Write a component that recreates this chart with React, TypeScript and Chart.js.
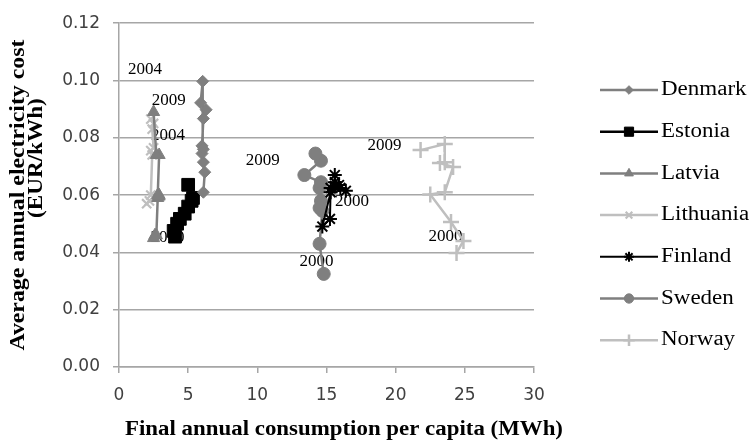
import React, { useEffect, useRef } from 'react';
import { Chart, registerables } from 'chart.js';
import { drawPoint } from 'chart.js/helpers';

Chart.register(...registerables);

// ---- data (x: MWh per capita, y: EUR/kWh), years 2000..2009 ----
const seriesNames = ['Denmark', 'Estonia', 'Latvia', 'Lithuania', 'Finland', 'Sweden', 'Norway'];

const denmarkX = [6.1, 6.2, 6.1, 6.0, 6.05, 5.9, 6.3, 6.1, 6.0, 6.1];
const denmarkY = [0.061, 0.068, 0.0715, 0.0745, 0.0997, 0.0922, 0.0898, 0.0867, 0.0772, 0.076];

const estoniaX = [4.05, 3.95, 4.2, 4.4, 4.75, 5.0, 5.25, 5.35, 5.0];
const estoniaY = [0.0455, 0.0475, 0.05, 0.0517, 0.0535, 0.056, 0.058, 0.059, 0.0636];

const latviaX = [2.5, 2.6, 2.7, 2.8, 2.9, 2.9, 2.8, 2.9, 2.7, 2.5];
const latviaY = [0.045, 0.046, 0.046, 0.059, 0.06, 0.0595, 0.06, 0.074, 0.074, 0.089];

const lithuaniaX = [2.0, 2.2, 2.5, 2.3, 2.4, 2.3, 2.5, 2.4, 2.5, 2.3];
const lithuaniaY = [0.057, 0.058, 0.059, 0.06, 0.074, 0.0755, 0.0765, 0.083, 0.085, 0.0865];

const finlandX = [16.4, 16.0, 15.3, 14.7, 15.25, 15.3, 15.6, 15.9, 15.6, 15.6];
const finlandY = [0.0615, 0.0625, 0.061, 0.049, 0.0517, 0.0625, 0.063, 0.0635, 0.0645, 0.067];

const swedenX = [14.8, 14.5, 14.7, 14.6, 14.5, 14.5, 14.6, 13.4, 14.6, 14.2];
const swedenY = [0.0325, 0.043, 0.0545, 0.058, 0.0625, 0.0555, 0.0645, 0.067, 0.072, 0.0745];

const norwayX = [24.4, 24.9, 24.0, 22.5, 23.55, 24.15, 23.2, 23.55, 23.55, 21.8];
const norwayY = [0.0398, 0.044, 0.0506, 0.0602, 0.061, 0.0698, 0.0712, 0.0715, 0.0778, 0.0757];

const xTicks = [0, 5, 10, 15, 20, 25, 30];
const yTicks = [0, 0.02, 0.04, 0.06, 0.08, 0.1, 0.12];

// year annotations (data coordinates)
const yearLabelText = ['2004', '2009', '2004', '2000', '2009', '2000', '2000', '2009', '2000'];
const yearLabelX = [1.88, 3.6, 3.55, 3.5, 10.4, 16.84, 14.27, 19.2, 23.6];
const yearLabelY = [0.1037, 0.093, 0.0808, 0.0452, 0.0721, 0.0577, 0.0367, 0.0772, 0.0457];

const xTitle = 'Final annual consumption per capita (MWh)';
const yTitle1 = 'Average annual electricity cost';
const yTitle2 = '(EUR/kWh)';

const GRAY = '#7f7f7f';
const LIGHT = '#bfbfbf';
const BLACK = '#000000';
const GRID = '#a6a6a6';

function pts(xs: number[], ys: number[]) {
  return xs.map((x, i) => ({ x, y: ys[i] }));
}

const seriesData = [
  pts(denmarkX, denmarkY),
  pts(estoniaX, estoniaY),
  pts(latviaX, latviaY),
  pts(lithuaniaX, lithuaniaY),
  pts(finlandX, finlandY),
  pts(swedenX, swedenY),
  pts(norwayX, norwayY),
];

const styles = [
  { color: GRAY, pointStyle: 'rectRot', radius: 6, bw: 1, lw: 2.5 },
  { color: BLACK, pointStyle: 'rect', radius: 9, bw: 1, lw: 2.5 },
  { color: GRAY, pointStyle: 'triangle', radius: 7, bw: 1, lw: 2.5 },
  { color: LIGHT, pointStyle: 'crossRot', radius: 6.5, bw: 2.2, lw: 2.5 },
  { color: BLACK, pointStyle: 'star', radius: 7, bw: 2, lw: 2 },
  { color: GRAY, pointStyle: 'circle', radius: 6.5, bw: 1, lw: 2.5 },
  { color: LIGHT, pointStyle: 'cross', radius: 8, bw: 2.5, lw: 2.5 },
];

function stretchedText(ctx: CanvasRenderingContext2D, text: string, x: number, y: number, sx: number, rot = 0) {
  ctx.save();
  ctx.translate(x, y);
  if (rot) ctx.rotate(rot);
  ctx.scale(sx, 1);
  ctx.fillText(text, 0, 0);
  ctx.restore();
}

const decorPlugin = {
  id: 'decor',
  beforeDatasetsDraw(chart: any) {
    const ctx: CanvasRenderingContext2D = chart.ctx;
    const xs = chart.scales.x;
    const ys = chart.scales.y;
    ctx.save();
    ctx.fillStyle = '#000';
    ctx.font = '17px "Liberation Serif", "Times New Roman", serif';
    ctx.textAlign = 'center';
    ctx.textBaseline = 'middle';
    yearLabelText.forEach((t, i) => {
      ctx.fillText(t, xs.getPixelForValue(yearLabelX[i]), ys.getPixelForValue(yearLabelY[i]));
    });
    ctx.restore();
  },
  afterDraw(chart: any) {
    const ctx: CanvasRenderingContext2D = chart.ctx;
    const area = chart.chartArea;
    ctx.save();
    ctx.fillStyle = '#000';
    ctx.textBaseline = 'middle';
    ctx.textAlign = 'center';
    // axis titles
    ctx.font = 'bold 20px "Liberation Serif", "Times New Roman", serif';
    stretchedText(ctx, xTitle, 344, 430, 1.144);
    const midY = (area.top + area.bottom) / 2;
    stretchedText(ctx, yTitle1, 19, midY, 1.19, -Math.PI / 2);
    stretchedText(ctx, yTitle2, 37, midY - 37, 1.16, -Math.PI / 2);

    // legend
    const lx0 = 600;
    const lx1 = 658;
    chart.data.datasets.forEach((ds: any, i: number) => {
      const y = 90 + i * 41.7;
      const st = styles[i];
      ctx.strokeStyle = st.color;
      ctx.lineWidth = st.lw;
      ctx.beginPath();
      ctx.moveTo(lx0, y);
      ctx.lineTo(lx1, y);
      ctx.stroke();
      ctx.fillStyle = st.color;
      ctx.strokeStyle = st.color;
      ctx.lineWidth = st.bw;
      drawPoint(ctx, { pointStyle: st.pointStyle, radius: st.radius * 0.72, borderWidth: st.bw, rotation: 0 } as any, (lx0 + lx1) / 2, y);
      ctx.fillStyle = '#000';
      ctx.textAlign = 'left';
      ctx.font = '20px "Liberation Serif", "Times New Roman", serif';
      stretchedText(ctx, ds.label, 661, y, 1.15);
    });
    ctx.restore();
  },
};

export default function App() {
  const ref = useRef<HTMLCanvasElement | null>(null);
  useEffect(() => {
    if (!ref.current) return;
    const chart = new Chart(ref.current, {
      type: 'scatter',
      data: {
        datasets: seriesData.map((d, i) => ({
          label: seriesNames[i],
          data: d,
          showLine: true,
          borderColor: styles[i].color,
          backgroundColor: styles[i].color,
          borderWidth: styles[i].lw,
          pointStyle: styles[i].pointStyle as any,
          pointRadius: styles[i].radius,
          pointBorderWidth: styles[i].bw,
          pointBackgroundColor: styles[i].color,
          pointBorderColor: styles[i].color,
          tension: 0,
        })),
      },
      options: {
        responsive: false,
        animation: false,
        layout: { padding: { left: 0, right: 219, top: 14, bottom: 0 } },
        plugins: { legend: { display: false }, tooltip: { enabled: false } },
        scales: {
          x: {
            type: 'linear',
            min: 0,
            max: 30,
            afterFit: (s: any) => { s.height = 79; },
            afterBuildTicks: (s: any) => { s.ticks = xTicks.map((v) => ({ value: v })); },
            grid: { drawOnChartArea: false, drawTicks: true, tickLength: 6, color: GRID, lineWidth: 1.5 },
            border: { display: true, color: GRID, width: 1.5 },
            ticks: {
              padding: 12,
              color: '#404040',
              font: { family: '"DejaVu Sans", sans-serif', size: 17 },
              callback: (v: any) => String(v),
            },
          },
          y: {
            type: 'linear',
            min: 0,
            max: 0.12,
            afterFit: (s: any) => { s.width = 119; },
            afterBuildTicks: (s: any) => { s.ticks = yTicks.map((v) => ({ value: v })); },
            grid: { drawTicks: true, tickLength: 6, color: GRID, lineWidth: 1.5 },
            border: { display: true, color: GRID, width: 1.5 },
            ticks: {
              padding: 13,
              color: '#404040',
              font: { family: '"DejaVu Sans", sans-serif', size: 17 },
              callback: (v: any) => Number(v).toFixed(2),
            },
          },
        },
      },
      plugins: [decorPlugin],
    });
    return () => chart.destroy();
  }, []);
  return (
    <div style={{ position: 'absolute', left: 0, top: 0, width: 753, height: 446, background: '#fff' }}>
      <canvas ref={ref} width={753} height={446} style={{ display: 'block' }} />
    </div>
  );
}
